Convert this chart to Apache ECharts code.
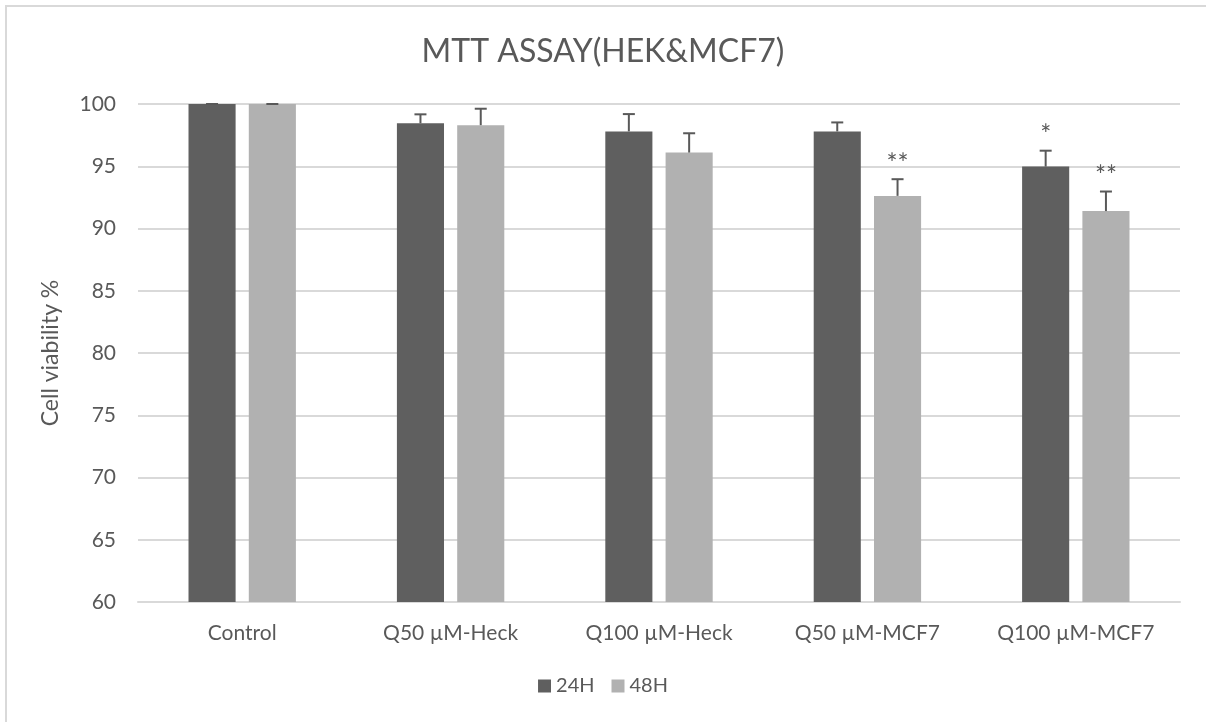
<!DOCTYPE html>
<html>
<head>
<meta charset="utf-8">
<script src="https://cdn.jsdelivr.net/npm/echarts@6/dist/echarts.min.js"></script>
<style>
  html, body { margin: 0; padding: 0; background: #fff; }
  #chart { width: 1206px; height: 722px; }
</style>
</head>
<body>
<div id="chart"></div>
<script>
// Treatment groups and viability (%) after 24 h and 48 h
const categories = ['Control', 'Q50 \u00b5M-Heck', 'Q100 \u00b5M-Heck', 'Q50 \u00b5M-MCF7', 'Q100 \u00b5M-MCF7'];
const seriesNames = ['24H', '48H'];
const values24 = [100, 98.45, 97.8, 97.8, 94.97];
const values48 = [100, 98.3, 96.1, 92.62, 91.4];
// Upper error (SD) for each bar
const errors24 = [0, 0.72, 1.39, 0.72, 1.28];
const errors48 = [0, 1.32, 1.55, 1.34, 1.57];
// Significance marks above the error bars
const marks24 = ['', '', '', '', '*'];
const marks48 = ['', '', '', '**', '**'];
const yTicks = [60, 65, 70, 75, 80, 85, 90, 95, 100];

const colors = ['#5f5f5f', '#b1b1b1'];
const textColor = '#595959';
const font = 'Lato, "Open Sans", sans-serif';
const BAR_W = 0.226;   // fraction of category band
const BAR_GAP = 0.28;  // fraction of bar width

function errorSeries(idx, vals, errs, marks) {
  return {
    type: 'custom',
    name: seriesNames[idx] + ' error',
    z: 5,
    silent: true,
    data: vals.map((v, i) => [i, v, errs[i], marks[i]]),
    renderItem: function (params, api) {
      const cat = api.value(0);
      const v = api.value(1);
      const e = api.value(2);
      const mark = api.value(3);
      const band = api.size([1, 0])[0];
      const w = band * BAR_W;
      const gap = w * BAR_GAP;
      const total = 2 * w + gap;
      const center = api.coord([cat, v]);
      const x = center[0] - total / 2 + w / 2 + idx * (w + gap);
      const yTop = center[1];
      const yCap = api.coord([cat, v + e])[1];
      const capHalf = 6;
      const style = { stroke: '#595959', lineWidth: 2 };
      const children = [
        { type: 'line', shape: { x1: x, y1: yTop, x2: x, y2: yCap }, style: style },
        { type: 'line', shape: { x1: x - capHalf, y1: yCap, x2: x + capHalf, y2: yCap }, style: style }
      ];
      if (mark) {
        children.push({
          type: 'text',
          style: {
            text: mark, x: x, y: yCap - 2,
            align: 'center', verticalAlign: 'bottom',
            fill: textColor, font: '26px ' + font
          }
        });
      }
      return { type: 'group', children: children };
    }
  };
}

const chart = echarts.init(document.getElementById('chart'));
chart.setOption({
  backgroundColor: '#ffffff',
  animation: false,
  title: {
    text: 'MTT ASSAY(HEK&MCF7)',
    left: 'center',
    top: 31,
    textStyle: { color: textColor, fontSize: 32, fontWeight: 'normal', fontFamily: font }
  },
  legend: {
    data: seriesNames,
    top: 671,
    left: 'center',
    icon: 'rect',
    itemWidth: 13,
    itemHeight: 13,
    itemGap: 17,
    textStyle: { color: textColor, fontSize: 20, fontFamily: font }
  },
  graphic: [{
    type: 'rect',
    shape: { x: 6, y: 6, width: 1300, height: 800 },
    style: { fill: 'none', stroke: '#d9d9d9', lineWidth: 2 },
    silent: true
  }],
  grid: { left: 138, right: 26, top: 104, bottom: 120 },
  xAxis: {
    type: 'category',
    data: categories,
    axisLine: { lineStyle: { color: '#d9d9d9', width: 2 } },
    axisTick: { show: false },
    axisLabel: { color: textColor, fontSize: 21, fontFamily: font, margin: 21, interval: 0 }
  },
  yAxis: {
    type: 'value',
    min: yTicks[0],
    max: yTicks[yTicks.length - 1],
    interval: 5,
    name: 'Cell viability %',
    nameLocation: 'middle',
    nameRotate: 90,
    nameGap: 76,
    nameTextStyle: { color: textColor, fontSize: 23, fontFamily: font },
    axisLine: { show: false },
    axisTick: { show: false },
    splitLine: { lineStyle: { color: '#d9d9d9', width: 2 } },
    axisLabel: { color: textColor, fontSize: 21, fontFamily: font, margin: 22 }
  },
  series: [
    {
      name: seriesNames[0], type: 'bar', data: values24,
      barWidth: (BAR_W * 100) + '%', barGap: (BAR_GAP * 100) + '%',
      itemStyle: { color: colors[0] }
    },
    {
      name: seriesNames[1], type: 'bar', data: values48,
      barWidth: (BAR_W * 100) + '%', barGap: (BAR_GAP * 100) + '%',
      itemStyle: { color: colors[1] }
    },
    errorSeries(0, values24, errors24, marks24),
    errorSeries(1, values48, errors48, marks48)
  ]
});
</script>
</body>
</html>
